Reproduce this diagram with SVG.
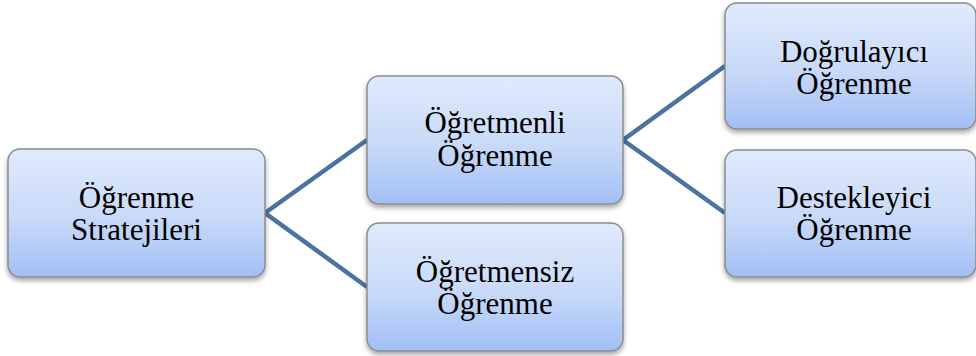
<svg xmlns="http://www.w3.org/2000/svg" width="976" height="356" viewBox="0 0 976 356">
<defs>
<linearGradient id="g" x1="0" y1="0" x2="0" y2="1">
<stop offset="0" stop-color="#e0eafc"/>
<stop offset="0.55" stop-color="#c8d9f8"/>
<stop offset="1" stop-color="#a1bff5"/>
</linearGradient>
<filter id="sh" x="-10%" y="-10%" width="120%" height="130%">
<feDropShadow dx="0" dy="3" stdDeviation="2.5" flood-color="#000" flood-opacity="0.35"/>
</filter>
</defs>
<style>
.box{fill:url(#g);stroke:#8c8c8c;stroke-width:1.5;filter:url(#sh)}
.t{font-family:'Liberation Serif','Times New Roman',serif;font-size:31px;fill:#000;text-anchor:middle}
.c{stroke:#4a72a4;stroke-width:4.5;fill:none;stroke-linejoin:miter}
</style>
<g id="connectors">
<polyline class="c" points="367,140 265,213 367,287"/>
<polyline class="c" points="725,66 623,140 725,213"/>
</g>
<g id="n1">
<rect class="box" x="8" y="149" width="257" height="128" rx="12"/>
<text class="t" x="136.5" y="208">Öğrenme</text>
<text class="t" x="136.5" y="240">Stratejileri</text>
</g>
<g id="n2">
<rect class="box" x="367" y="76" width="256" height="128" rx="12"/>
<text class="t" x="495" y="133">Öğretmenli</text>
<text class="t" x="495" y="166">Öğrenme</text>
</g>
<g id="n3">
<rect class="box" x="367" y="223" width="256" height="128" rx="12"/>
<text class="t" x="495" y="282">Öğretmensiz</text>
<text class="t" x="495" y="314">Öğrenme</text>
</g>
<g id="n4">
<rect class="box" x="725" y="3" width="251" height="126" rx="12"/>
<text class="t" x="854" y="62">Doğrulayıcı</text>
<text class="t" x="854" y="94">Öğrenme</text>
</g>
<g id="n5">
<rect class="box" x="725" y="150" width="251" height="127" rx="12"/>
<text class="t" x="854" y="208">Destekleyici</text>
<text class="t" x="854" y="240">Öğrenme</text>
</g>
</svg>
